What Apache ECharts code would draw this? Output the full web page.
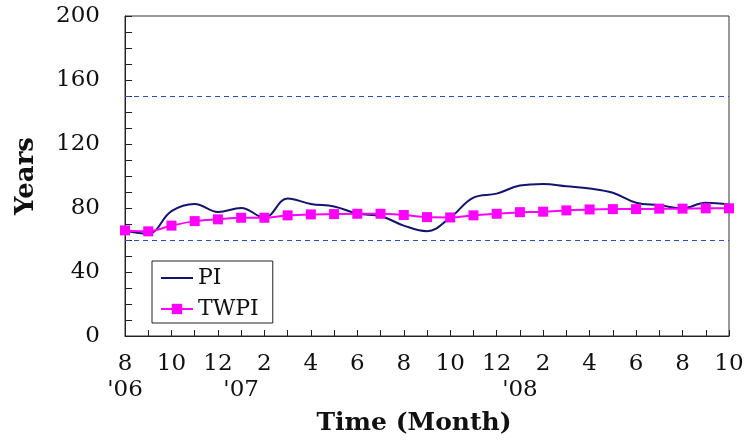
<!DOCTYPE html>
<html>
<head>
<meta charset="utf-8">
<script src="https://cdn.jsdelivr.net/npm/echarts@6/dist/echarts.min.js"></script>
<style>html,body{margin:0;padding:0;background:#fff}#c{width:747px;height:441px}</style>
</head>
<body>
<div id="c"></div>
<script>
// Months from Aug '06 to Oct '08
var months = [8,9,10,11,12,1,2,3,4,5,6,7,8,9,10,11,12,1,2,3,4,5,6,7,8,9,10];
var yearTags = {0: "'06", 5: "'07", 17: "'08"};
var piValues = [66,64,78,82.5,77.5,80,74,86,82.5,81,76.5,75,69,65.5,74,86.5,89,94,95,93.6,92.2,89.5,83.3,81.8,79.8,83.3,82.2];
var twpiValues = [66,65.4,69,71.8,72.9,73.9,73.9,75.4,76,76.2,76.4,76.4,75.6,74.3,74.1,75.4,76.4,77.4,77.7,78.5,79.1,79.3,79.3,79.6,79.6,79.8,79.8];
var refLines = [150, 60];
var yTickLabels = [0,40,80,120,160,200];

var categories = months.map(function(m,i){return String(i);});
var serif = 'DejaVu Serif';
var chart = echarts.init(document.getElementById('c'));
chart.setOption({
  animation: false,
  grid: {left:125, right:18, top:16, bottom:104, show:true, borderColor:'#333', borderWidth:1, backgroundColor:'transparent'},
  legend: {
    orient:'vertical', left:152, top:261,
    padding:[6,14,3,8], itemGap:9, itemWidth:32, itemHeight:13,
    borderColor:'#222', borderWidth:1,
    textStyle:{fontFamily:serif, fontSize:22, color:'#111'},
    data:[{name:'PI', icon:'path://M0,0H32V2H0Z'}, {name:'TWPI'}]
  },
  xAxis: {
    type:'category', data:categories, boundaryGap:false,
    axisLine:{lineStyle:{color:'#222', width:1}},
    axisTick:{inside:true, length:6, alignWithLabel:true, interval:0, lineStyle:{color:'#222'}},
    axisLabel:{interval:0, margin:15, color:'#111', fontFamily:serif, fontSize:23, lineHeight:26,
      formatter:function(v){var i=+v; var m=months[i]; var s = (m%2===0)?String(m):''; if(yearTags[i]!==undefined){ s = s + '\n' + yearTags[i]; } return s;}},
    splitLine:{show:false},
    name:'Time (Month)', nameLocation:'middle', nameGap:75,
    nameTextStyle:{fontFamily:serif, fontSize:25, fontWeight:'bold', color:'#111', padding:[0,26,0,0]}
  },
  yAxis: {
    type:'value', min:0, max:200, interval:10,
    axisLine:{show:true, lineStyle:{color:'#222', width:1}},
    axisTick:{show:true, inside:true, length:7, lineStyle:{color:'#222'}},
    axisLabel:{margin:25, color:'#111', fontFamily:serif, fontSize:23,
      formatter:function(v){return yTickLabels.indexOf(v)>=0 ? String(v) : '';}},
    splitLine:{show:false},
    name:'Years', nameLocation:'middle', nameGap:86, nameRotate:90,
    nameTextStyle:{fontFamily:serif, fontSize:26, fontWeight:'bold', color:'#111', padding:[0,0,0,0]}
  },
  series: [
    {name:'PI', type:'line', data:piValues, smooth:0.4, symbol:'none',
     lineStyle:{color:'#14146e', width:2}, itemStyle:{color:'#14146e'},
     markLine:{silent:true, symbol:'none', label:{show:false},
       lineStyle:{color:'#2a4fb0', type:[5,4], width:1},
       data: refLines.map(function(v){return {yAxis:v};})}},
    {name:'TWPI', type:'line', data:twpiValues, smooth:0.3, symbol:'rect', symbolSize:10,
     lineStyle:{color:'#ff00ff', width:2}, itemStyle:{color:'#ff00ff'}}
  ]
});
</script>
</body>
</html>
